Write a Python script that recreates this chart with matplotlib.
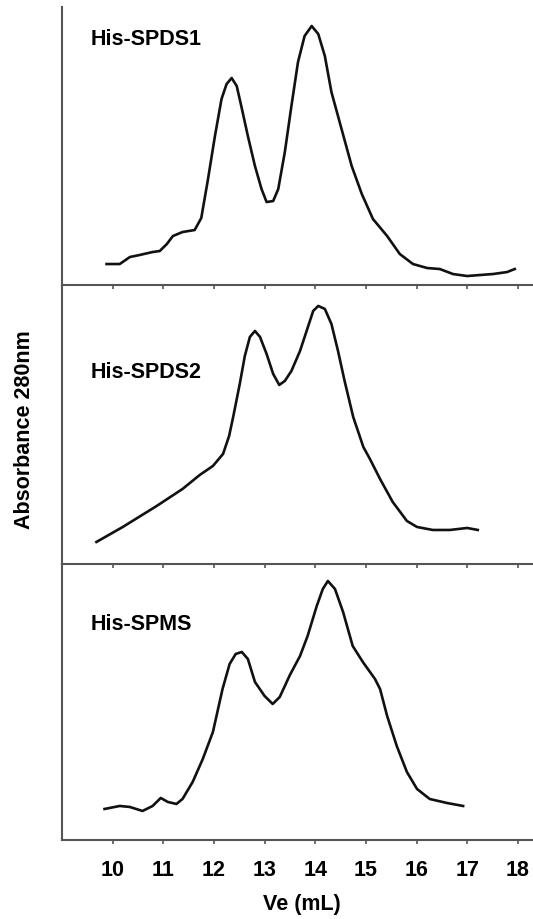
import matplotlib
matplotlib.use('Agg')
import matplotlib.pyplot as plt

plt.rcParams['font.family'] = ['Liberation Sans', 'DejaVu Sans']
plt.rcParams['font.weight'] = 'bold'

# elution volume (mL) and absorbance (arbitrary units)
spds1_ve = [9.88, 10.14, 10.34, 10.53, 10.79, 10.93, 11.07, 11.19, 11.38, 11.62, 11.75, 11.88,
            12.02, 12.15, 12.25, 12.35, 12.45, 12.54, 12.67, 12.81, 12.94, 13.04, 13.17, 13.27,
            13.40, 13.53, 13.66, 13.79, 13.93, 14.06, 14.19, 14.32, 14.52, 14.72, 14.92, 15.14,
            15.42, 15.67, 15.93, 16.21, 16.46, 16.72, 17.00, 17.25, 17.51, 17.79, 17.94]
spds1_abs = [21, 21, 28, 30, 33, 34, 41, 49, 53, 55, 67, 105,
             149, 186, 201, 207, 199, 179, 149, 119, 96, 83, 84, 96,
             133, 179, 223, 249, 259, 251, 229, 193, 156, 119, 91, 66,
             49, 31, 21, 17, 16, 11, 9, 10, 11, 13, 16]

spds2_ve = [9.68, 10.20, 10.87, 11.38, 11.72, 11.98, 12.18, 12.30, 12.38, 12.51, 12.61, 12.71,
            12.81, 12.91, 13.04, 13.17, 13.29, 13.40, 13.53, 13.70, 13.83, 13.96, 14.06, 14.19,
            14.32, 14.45, 14.58, 14.75, 14.95, 15.08, 15.28, 15.53, 15.81, 16.01, 16.32, 16.66,
            17.00, 17.21]
spds2_abs = [22, 37, 58, 75, 89, 98, 110, 128, 147, 180, 208, 227,
             233, 227, 210, 190, 179, 183, 193, 213, 233, 253, 258, 255,
             240, 213, 183, 147, 117, 105, 85, 62, 43, 37, 34, 34,
             36, 34]

spms_ve = [9.84, 10.14, 10.34, 10.59, 10.79, 10.95, 11.09, 11.26, 11.38, 11.58, 11.78, 11.98,
           12.17, 12.31, 12.43, 12.55, 12.67, 12.81, 13.00, 13.16, 13.30, 13.50, 13.70, 13.85,
           14.03, 14.15, 14.25, 14.39, 14.55, 14.74, 14.94, 15.18, 15.28, 15.42, 15.61, 15.81,
           16.01, 16.26, 16.60, 16.92]
spms_abs = [31, 34, 33, 29, 34, 42, 38, 36, 41, 58, 81, 108,
            151, 176, 186, 188, 181, 158, 144, 136, 143, 165, 184, 204,
            234, 251, 259, 251, 228, 194, 178, 161, 151, 124, 94, 68,
            51, 41, 37, 34]

names = ['His-SPDS1', 'His-SPDS2', 'His-SPMS']
xticks = [10, 11, 12, 13, 14, 15, 16, 17, 18]

panels = [
    # (ve, abs, [left, bottom, width, height], ymax, label y)
    (spds1_ve, spds1_abs, [0.1163, 0.6891, 0.8837, 0.3022], 278, 0.885),
    (spds2_ve, spds2_abs, [0.1163, 0.3859, 0.8837, 0.3033], 279, 0.688),
    (spms_ve, spms_abs, [0.1163, 0.0859, 0.8837, 0.3000], 276, 0.783),
]

fig = plt.figure(figsize=(5.33, 9.2), dpi=100)

for i, (ve, ab, rect, ymax, ly) in enumerate(panels):
    ax = fig.add_axes(rect)
    ax.patch.set_visible(False)
    ax.plot(ve, ab, color='#111111', linewidth=1.9, solid_joinstyle='round')
    ax.set_xlim(9.0, 18.3)
    ax.set_ylim(0, ymax)
    for side in ['top', 'right']:
        ax.spines[side].set_visible(False)
    for side in ['left', 'bottom']:
        ax.spines[side].set_color('#555555')
        ax.spines[side].set_linewidth(1.5)
    ax.set_yticks([])
    ax.set_xticks(xticks)
    ax.tick_params(axis='x', direction='out', length=3, width=1.2, color='#555555', pad=11,
                   labelsize=15.5)
    if i < 2:
        ax.set_xticklabels([])
    ax.text(0.0616, ly, names[i], transform=ax.transAxes, fontsize=15.5,
            fontweight='bold', ha='left', va='center')

fig.text(302 / 533, 1 - 905 / 920, 'Ve (mL)', fontsize=15.5, fontweight='bold',
         ha='center', va='center')
fig.text(25 / 533, 1 - 430 / 920, 'Absorbance 280nm', fontsize=15.5, fontweight='bold',
         rotation=90, ha='center', va='center')

fig.savefig('out.png', dpi=100, facecolor='white')
